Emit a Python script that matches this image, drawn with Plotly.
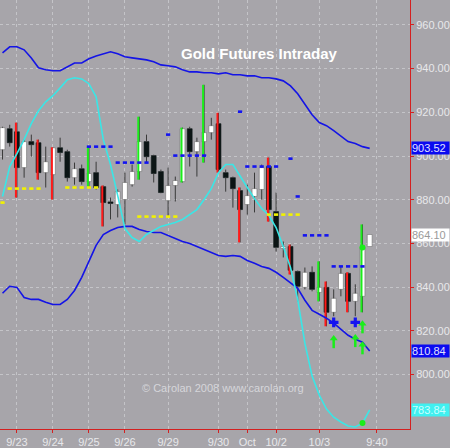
import plotly.graph_objects as go

# ---------------- data ----------------
tick_idx = [2, 7, 12, 17, 23, 30, 34, 38, 44, 52]
tick_text = ['9/23', '9/24', '9/25', '9/26', '9/29', '9/30', 'Oct', '10/2', '10/3', '9:40']
price_ticks = [800, 820, 840, 860, 880, 900, 920, 940, 960]

opens = [902.9, 912.5, 911.1, 894.7, 906.6, 906.1, 892.4, 891.5, 903.8, 902.0,
         890.1, 894.2, 888.3, 892.4, 886.0, 878.7, 877.8, 880.1, 886.9, 892.9,
         906.6, 900.2, 892.9, 879.6, 886.5, 888.3, 912.5, 902.0, 906.6, 910.7,
         914.8, 892.4, 890.1, 884.2, 877.8, 881.5, 884.7, 895.2, 874.6, 857.7,
         858.6, 847.2, 839.9, 846.8, 837.6, 839.9, 828.5, 839.0, 846.3, 833.5,
         835.8, 858.6]
highs = [913.4, 914.3, 915.3, 907.5, 909.8, 907.5, 904.3, 904.0, 908.4, 902.9,
         897.0, 896.1, 904.3, 897.4, 886.5, 881.0, 884.7, 892.4, 896.1, 918.0,
         909.8, 900.6, 893.8, 894.7, 890.6, 913.0, 913.4, 908.4, 932.6, 917.5,
         919.8, 893.8, 890.6, 885.6, 886.9, 892.4, 896.1, 899.3, 883.3, 860.9,
         859.5, 847.6, 849.0, 849.5, 851.8, 842.6, 839.0, 849.5, 846.8, 841.3,
         868.7, 864.1]
lows = [898.4, 904.3, 881.0, 890.1, 899.7, 889.2, 885.6, 880.1, 897.4, 888.3,
        886.9, 886.9, 885.6, 884.7, 867.8, 871.0, 871.9, 868.7, 886.0, 889.2,
        897.0, 887.9, 883.0, 872.3, 879.2, 887.9, 895.2, 890.6, 897.0, 907.5,
        892.4, 883.7, 876.4, 860.5, 873.2, 874.2, 880.1, 870.0, 856.3, 853.6,
        845.8, 833.5, 839.0, 838.1, 833.5, 822.1, 826.7, 835.8, 828.5, 826.7,
        828.5, 858.6]
closes = [913.0, 906.1, 894.7, 906.6, 905.2, 892.4, 897.4, 903.8, 901.6, 890.1,
          894.2, 888.3, 892.0, 885.6, 878.7, 878.3, 883.7, 887.9, 892.9, 906.6,
          899.7, 892.0, 883.3, 886.5, 888.8, 912.5, 902.0, 906.6, 910.7, 913.9,
          893.8, 890.1, 885.1, 875.5, 881.9, 885.1, 894.7, 875.5, 858.2, 858.6,
          847.7, 840.4, 846.8, 839.0, 839.9, 828.5, 834.9, 846.3, 833.5, 837.2,
          858.2, 864.1]

red_flags = [2, 5, 7, 14, 30, 33, 37, 40, 45, 48]
green_flags = [12, 19, 25, 28, 44, 50]

upper_band = [947.2, 950.0, 950.0, 948.6, 944.9, 940.4, 939.5, 939.0, 939.0, 940.8,
              942.6, 942.6, 944.5, 945.8, 946.8, 947.7, 946.8, 945.4, 944.9, 944.5,
              944.0, 943.1, 941.7, 941.3, 940.8, 939.5, 938.5, 938.5, 938.1, 938.1,
              937.6, 938.1, 937.2, 937.2, 936.7, 936.7, 935.8, 935.8, 935.3, 934.4,
              932.1, 928.5, 923.5, 918.9, 915.3, 913.9, 911.6, 908.9, 906.6, 905.7,
              904.3, 903.52]
lower_band = [837.2, 840.4, 839.9, 835.3, 834.4, 834.4, 833.1, 832.1, 832.1, 834.4,
              838.5, 844.5, 851.8, 859.1, 864.1, 865.9, 867.3, 867.8, 867.8, 866.4,
              865.5, 865.0, 865.0, 863.7, 862.3, 860.9, 860.0, 858.6, 857.3, 855.9,
              854.5, 854.1, 854.5, 854.1, 852.2, 850.9, 849.5, 848.6, 846.8, 844.5,
              842.2, 839.5, 834.0, 829.4, 827.6, 825.8, 823.5, 820.7, 818.0, 816.2,
              814.8, 810.84]
cyan_line = [881.5, 895.2, 901.1, 907.5, 914.8, 920.7, 924.8, 927.6, 931.2, 934.9,
             935.8, 935.3, 933.1, 927.1, 907.5, 896.1, 881.9, 866.8, 862.7, 860.9,
             864.1, 865.9, 867.8, 868.7, 869.6, 871.0, 873.2, 875.5, 880.1, 885.1,
             892.4, 896.1, 896.1, 890.6, 885.6, 880.5, 876.0, 872.8, 867.3, 858.6,
             849.0, 834.4, 814.3, 799.3, 790.6, 784.2, 780.5, 778.3, 776.5, 776.0,
             777.8, 783.84]

# (start index, end index, level)
yellow_segments = [(0, 0, 878.7), (1, 5, 885.1), (9, 13, 885.6), (19, 24, 872.3), (37, 41, 873.2)]
blue_segments = [(12, 15, 904.3), (16, 20, 897.0), (23, 23, 909.8), (24, 28, 900.2),
                 (33, 33, 920.3), (34, 38, 895.2), (40, 40, 898.8), (41, 41, 881.5),
                 (42, 45, 863.7), (46, 50, 849.5)]

blue_cross_idx = [46, 49]
blue_cross_lvl = [823.9, 823.9]
green_arrow_idx = [46, 49, 50, 50]
green_arrow_lvl = [815.3, 815.8, 822.1, 812.5]

# ---------------- styles ----------------
BG = '#a7a5aa'
AXIS_RED = '#d42020'
TXT = '#e8e8ea'
FONT = 'Arial, Liberation Sans, sans-serif'

n = len(opens)
idx = list(range(n))

fig = go.Figure()

# wicks (split so bodies stay clean)
wx, wy = [], []
for i in idx:
    top = max(opens[i], closes[i])
    bot = min(opens[i], closes[i])
    wx += [i, i, None, i, i, None]
    wy += [highs[i], top, None, bot, lows[i], None]
fig.add_trace(go.Scatter(x=wx, y=wy, mode='lines', line=dict(color='#3a3a3a', width=1),
                         hoverinfo='skip'))

# bodies
base = [min(opens[i], closes[i]) for i in idx]
height = [max(abs(closes[i] - opens[i]), 0.7) for i in idx]
colors = ['#ffffff' if closes[i] >= opens[i] else '#0c1515' for i in idx]
lcolors = ['#707070' if closes[i] >= opens[i] else '#0c1515' for i in idx]
fig.add_trace(go.Bar(x=idx, y=height, base=base, width=0.68,
                     marker=dict(color=colors, line=dict(color=lcolors, width=0.6)),
                     hoverinfo='skip'))

# flagged candles (red / green range lines)
def flag_trace(flags, color):
    fx, fy = [], []
    for i in flags:
        fx += [i - 0.14, i - 0.14, None]
        fy += [highs[i], lows[i], None]
    return go.Scatter(x=fx, y=fy, mode='lines', line=dict(color=color, width=2), hoverinfo='skip')

fig.add_trace(flag_trace(red_flags, '#ff1a1a'))
fig.add_trace(flag_trace(green_flags, '#1aee1a'))

# bands and cyan line
fig.add_trace(go.Scatter(x=idx, y=upper_band, mode='lines', line=dict(color='#1414e6', width=1.6)))
fig.add_trace(go.Scatter(x=idx, y=lower_band, mode='lines', line=dict(color='#1414e6', width=1.6)))
fig.add_trace(go.Scatter(x=idx, y=cyan_line, mode='lines', line=dict(color='#3ae6e6', width=1.6)))

# dashed level markers (one short dash per bar)
def seg_trace(segs, color):
    sx, sy = [], []
    for s, e, lvl in segs:
        for i in range(s, e + 1):
            sx.append(i)
            sy.append(lvl)
    return go.Scatter(x=sx, y=sy, mode='markers',
                      marker=dict(symbol='line-ew', size=3, line=dict(color=color, width=2.6)))

fig.add_trace(seg_trace(yellow_segments, '#f2f200'))
fig.add_trace(seg_trace(blue_segments, '#1414f0'))

# blue crosses
fig.add_trace(go.Scatter(x=blue_cross_idx, y=blue_cross_lvl, mode='markers',
                         marker=dict(symbol='cross', size=8, color='#1414f0')))
# green arrows: stem + head
fig.add_trace(go.Scatter(x=green_arrow_idx, y=[v - 1.3 for v in green_arrow_lvl], mode='markers',
                         marker=dict(symbol='line-ns', size=6, line=dict(color='#1aee1a', width=2.5))))
fig.add_trace(go.Scatter(x=green_arrow_idx, y=[v + 1.2 for v in green_arrow_lvl], mode='markers',
                         marker=dict(symbol='triangle-up', size=7, color='#1aee1a')))
# green dots
fig.add_trace(go.Scatter(x=[50, 50], y=[closes[50], cyan_line[50]], mode='markers',
                         marker=dict(symbol='circle', size=6, color='#1aee1a')))

# value boxes on right axis
boxes = [(upper_band[-1], '#0a0af0', '#e0e0ff'),
         (closes[-1], '#ffffff', '#9a9a9a'),
         (lower_band[-1], '#0a0af0', '#e0e0ff'),
         (cyan_line[-1], '#40f0f0', '#c8ffff')]
for val, bg, fc in boxes:
    fig.add_annotation(xref='paper', yref='y', x=1, y=val, xanchor='left', yanchor='middle',
                       xshift=1, text=f'{val:.2f}', showarrow=False, bgcolor=bg,
                       font=dict(family=FONT, size=11, color=fc), width=37, height=12,
                       align='left', borderpad=0)

fig.add_annotation(xref='paper', yref='paper', x=0.634, y=0.9, text='<b>Gold Futures Intraday</b>',
                   showarrow=False, font=dict(family=FONT, size=15, color='#ffffff'))
fig.add_annotation(xref='paper', yref='paper', x=0.545, y=0.077,
                   text='© Carolan 2008 www.carolan.org', showarrow=False,
                   font=dict(family=FONT, size=11, color='#d6d6da'))

fig.update_layout(
    width=450, height=448, margin=dict(l=0, r=38, t=0, b=18),
    paper_bgcolor=BG, plot_bgcolor=BG, showlegend=False, barmode='overlay',
    font=dict(family=FONT, size=11, color=TXT),
    xaxis=dict(range=[-0.35, 56.6], tickvals=tick_idx, ticktext=tick_text,
               showline=True, linecolor=AXIS_RED, linewidth=1, ticks='outside',
               tickcolor=AXIS_RED, ticklen=3, showgrid=True, gridcolor='#c4c4c8',
               griddash='dot', gridwidth=1, zeroline=False, fixedrange=True,
               tickfont=dict(family=FONT, size=11, color=TXT)),
    yaxis=dict(range=[775.1, 971.4], side='right', tickvals=price_ticks,
               tickformat='.2f', showline=True, linecolor=AXIS_RED, linewidth=1,
               ticks='outside', tickcolor=AXIS_RED, ticklen=3, showgrid=True,
               gridcolor='#c4c4c8', griddash='dot', gridwidth=1, zeroline=False,
               tickfont=dict(family=FONT, size=11, color=TXT)),
)

fig.write_html('out.html')
